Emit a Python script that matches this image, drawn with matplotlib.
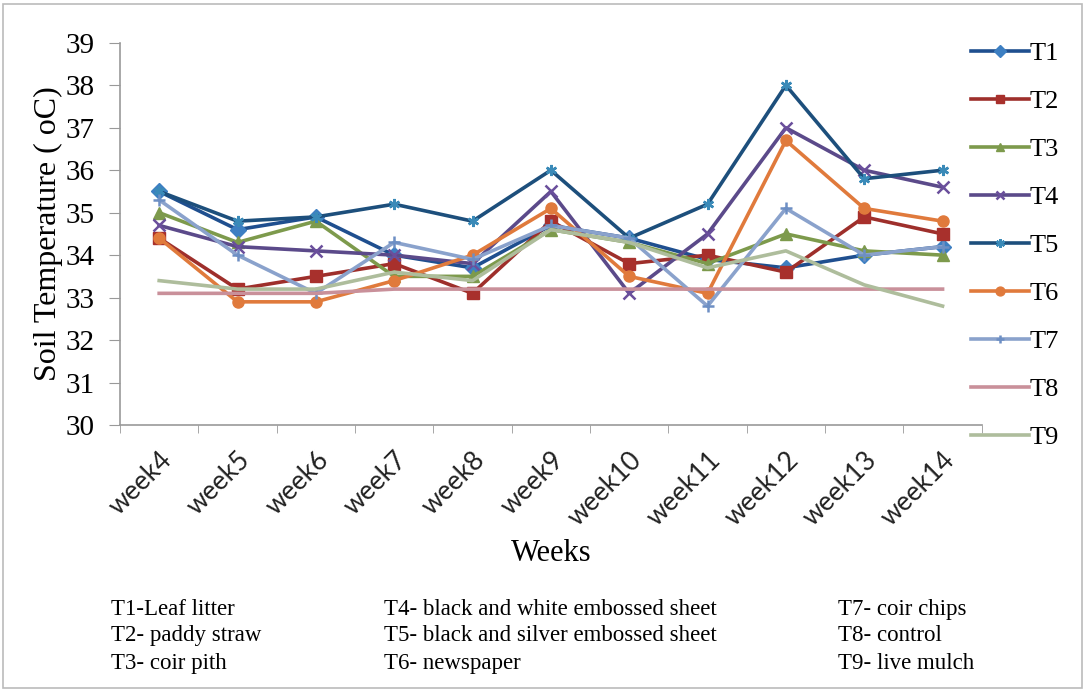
import numpy as np
import matplotlib.pyplot as plt
from matplotlib.patches import Rectangle

# Weeks on the x axis
weeks = ['week4', 'week5', 'week6', 'week7', 'week8', 'week9',
         'week10', 'week11', 'week12', 'week13', 'week14']

# Soil temperature per treatment
t1 = [35.5, 34.6, 34.9, 34.0, 33.7, 34.7, 34.4, 33.9, 33.7, 34.0, 34.2]
t2 = [34.4, 33.2, 33.5, 33.8, 33.1, 34.8, 33.8, 34.0, 33.6, 34.9, 34.5]
t3 = [35.0, 34.3, 34.8, 33.5, 33.5, 34.6, 34.3, 33.8, 34.5, 34.1, 34.0]
t4 = [34.7, 34.2, 34.1, 34.0, 33.8, 35.5, 33.1, 34.5, 37.0, 36.0, 35.6]
t5 = [35.5, 34.8, 34.9, 35.2, 34.8, 36.0, 34.4, 35.2, 38.0, 35.8, 36.0]
t6 = [34.4, 32.9, 32.9, 33.4, 34.0, 35.1, 33.5, 33.1, 36.7, 35.1, 34.8]
t7 = [35.3, 34.0, 33.1, 34.3, 33.9, 34.7, 34.4, 32.8, 35.1, 34.0, 34.2]
t8 = [33.1, 33.1, 33.1, 33.2, 33.2, 33.2, 33.2, 33.2, 33.2, 33.2, 33.2]
t9 = [33.4, 33.2, 33.2, 33.6, 33.4, 34.6, 34.3, 33.7, 34.1, 33.3, 32.8]

labels = ['T1', 'T2', 'T3', 'T4', 'T5', 'T6', 'T7', 'T8', 'T9']
notes = [
    ['T1-Leaf litter', 'T2- paddy straw', 'T3- coir pith'],
    ['T4- black and white embossed sheet', 'T5- black and silver embossed sheet', 'T6- newspaper'],
    ['T7- coir chips', 'T8- control', 'T9- live mulch'],
]

# line colour, marker, marker face colour
styles = [
    ('#1f4f8f', 'D', '#3d7fc2'),
    ('#9e2f2b', 's', '#a8302c'),
    ('#7d9a4c', '^', '#7d9a4c'),
    ('#5b4a8a', 'x', '#6a4f9c'),
    ('#1d4f7c', (6, 2, 0), '#3a8ab8'),
    ('#e07a3c', 'o', '#e07a3c'),
    ('#8aa2cc', '+', '#6d8fc4'),
    ('#c9909a', None, None),
    ('#aebd9c', None, None),
]

plt.rcParams['font.family'] = ['Liberation Serif', 'DejaVu Serif']

fig = plt.figure(figsize=(10.86, 6.91), dpi=100)
ax = fig.add_axes([0.1105, 0.385, 0.7935, 0.553])

x = np.arange(len(weeks))
series = [t1, t2, t3, t4, t5, t6, t7, t8, t9]
for vals, lab, (col, mk, mfc) in zip(series, labels, styles):
    kw = dict(color=col, lw=2.6, label=lab)
    if mk is not None:
        kw.update(marker=mk, markersize=8, markerfacecolor=mfc, markeredgecolor=mfc,
                  markeredgewidth=1.8 if mk in ('x', '+') or isinstance(mk, tuple) else 1)
    ax.plot(x, vals, **kw)

ax.set_xlim(-0.5, len(weeks) - 0.5)
ax.set_ylim(30, 39)
ax.set_yticks(range(30, 40))
ax.set_xticks(x)
ax.set_xticklabels(weeks, rotation=45, ha='right', rotation_mode='anchor',
                   fontsize=19, family='Lato', color='#222222')
ax.set_xticks(np.arange(-0.5, len(weeks)), minor=True)
ax.tick_params(axis='x', which='major', length=0, pad=16)
ax.tick_params(axis='x', which='minor', length=6, color='#999999')
ax.tick_params(axis='y', labelsize=21, length=8, color='#999999', pad=10)
for s in ['top', 'right']:
    ax.spines[s].set_visible(False)
for s in ['left', 'bottom']:
    ax.spines[s].set_color('#999999')
    ax.spines[s].set_linewidth(1.2)

ax.set_ylabel('Soil Temperature ( oC)', fontsize=23, labelpad=2)
ax.set_xlabel('Weeks', fontsize=22, labelpad=6)

fig.legend(loc='upper left', bbox_to_anchor=(0.884, 0.955), frameon=False,
           fontsize=19, handlelength=2.2, labelspacing=0.93, handletextpad=0.05,
           markerscale=0.8, borderaxespad=0)

xs = [0.102, 0.354, 0.772]
ys = [0.118, 0.08, 0.04]
for col_x, col in zip(xs, notes):
    for row_y, txt in zip(ys, col):
        fig.text(col_x, row_y, txt, fontsize=16.5, va='center', ha='left')

fig.patches.append(Rectangle((0.003, 0.004), 0.993, 0.99, transform=fig.transFigure,
                             fill=False, edgecolor='#bbbbbb', lw=1.2))

fig.savefig('out.png', dpi=100)
